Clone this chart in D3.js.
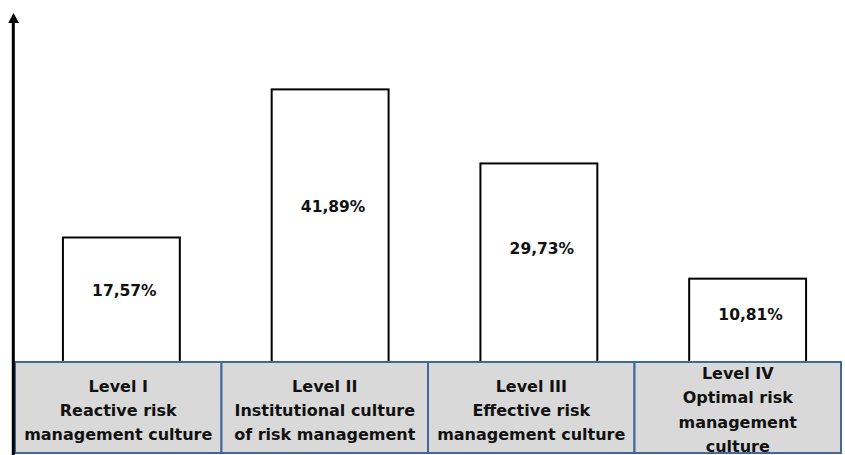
<!DOCTYPE html>
<html>
<head>
<meta charset="utf-8">
<script src="https://cdn.jsdelivr.net/npm/d3@7"></script>
<style>
  body { margin: 0; background: #fff; }
  text { font-family: "DejaVu Sans", sans-serif; font-weight: bold; fill: #111; }
</style>
</head>
<body>
<svg id="chart" width="845" height="455"></svg>
<script>
const levels = ["Level I", "Level II", "Level III", "Level IV"];
const values = [17.57, 41.89, 29.73, 10.81];
const valueLabels = ["17,57%", "41,89%", "29,73%", "10,81%"];
const boxLines = [
  ["Level I", "Reactive risk", "management culture"],
  ["Level II", "Institutional culture", "of risk management"],
  ["Level III", "Effective risk", "management culture"],
  ["Level IV", "Optimal risk", "management", "culture"]
];

const width = 845, height = 455;
const boxTop = 362, boxBottom = 453;

const svg = d3.select("#chart");

// the source figure is not to scale; this fit keeps the bars near their drawn tops
const y = d3.scaleLinear().domain([0, 50]).range([344.5, 40]);

const xBox = d3.scaleBand().domain(levels).range([15, 841]).padding(0);
const xBar = d3.scaleBand().domain(levels).range([17, 852])
    .paddingInner(0.44).paddingOuter(0.22);

const data = levels.map((l, i) => ({ level: l, value: values[i], label: valueLabels[i], lines: boxLines[i] }));

// bars run down to the top of the category boxes
svg.selectAll("rect.bar")
  .data(data)
  .enter().append("rect")
  .attr("class", "bar")
  .attr("x", d => xBar(d.level))
  .attr("y", d => y(d.value))
  .attr("width", xBar.bandwidth())
  .attr("height", d => boxTop - y(d.value))
  .attr("fill", "#fff")
  .attr("stroke", "#000")
  .attr("stroke-width", 2);

svg.selectAll("text.val")
  .data(data)
  .enter().append("text")
  .attr("class", "val")
  .attr("x", d => xBar(d.level) + xBar.bandwidth() / 2 + 3)
  .attr("y", d => y(d.value) + 0.43 * (boxTop - y(d.value)))
  .attr("dy", "0.35em")
  .attr("text-anchor", "middle")
  .attr("font-size", 15.5)
  .text(d => d.label);

// category boxes
const boxes = svg.selectAll("g.box")
  .data(data)
  .enter().append("g")
  .attr("class", "box");

boxes.append("rect")
  .attr("x", d => xBox(d.level))
  .attr("y", boxTop)
  .attr("width", xBox.bandwidth())
  .attr("height", boxBottom - boxTop)
  .attr("fill", "#d9d9d9")
  .attr("stroke", "#41689a")
  .attr("stroke-width", 2);

boxes.each(function(d) {
  const n = d.lines.length;
  const lh = n > 3 ? 24.5 : 24;
  const start = n > 3 ? 373 : 386;
  d3.select(this).selectAll("text")
    .data(d.lines)
    .enter().append("text")
    .attr("x", xBox(d.level) + xBox.bandwidth() / 2)
    .attr("y", (t, i) => start + i * lh)
    .attr("dy", "0.35em")
    .attr("text-anchor", "middle")
    .attr("font-size", 16)
    .text(t => t);
});

// y axis arrow
svg.append("line")
  .attr("x1", 13.3).attr("x2", 13.3)
  .attr("y1", 20).attr("y2", height)
  .attr("stroke", "#000")
  .attr("stroke-width", 3);

svg.append("path")
  .attr("d", "M13.5,13 L8.3,23 L19,23 Z")
  .attr("fill", "#000");
</script>
</body>
</html>
